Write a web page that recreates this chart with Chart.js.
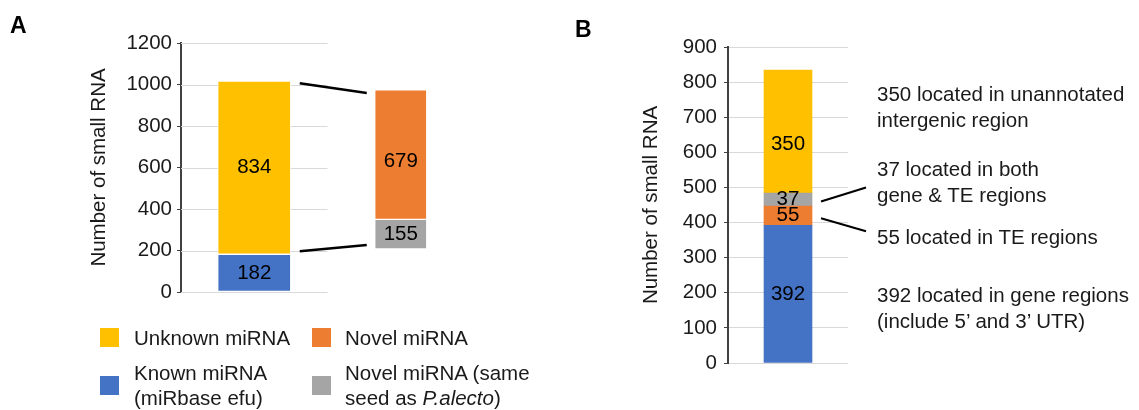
<!DOCTYPE html>
<html>
<head>
<meta charset="utf-8">
<script src="https://cdn.jsdelivr.net/npm/chart.js@4/dist/chart.umd.min.js"></script>
<style>
  body { margin: 0; background: #fff; }
  #wrap { position: relative; width: 1139px; height: 410px; overflow: hidden; font-family: "Liberation Sans", Arial, sans-serif; color: #1a1a1a; }
  canvas { position: absolute; top: 0; }
  .letter { position: absolute; font-weight: bold; font-size: 23px; line-height: 23px; color: #000; }
  .sw { position: absolute; width: 19px; height: 19px; }
  .lg { position: absolute; font-size: 20.5px; line-height: 25px; white-space: nowrap; }
  .note { position: absolute; left: 877px; font-size: 20.5px; line-height: 26px; white-space: nowrap; }
</style>
</head>
<body>
<div id="wrap">
  <canvas id="chartA" width="570" height="410" style="left:0"></canvas>
  <canvas id="chartB" width="569" height="410" style="left:570px"></canvas>

  <div class="letter" style="left:10px; top:14px">A</div>
  <div class="letter" style="left:575px; top:18px">B</div>

  <div class="sw" style="left:100px; top:328px; background:#FFC000"></div>
  <div class="lg" style="left:134px; top:325px">Unknown miRNA</div>
  <div class="sw" style="left:312px; top:328px; background:#ED7D31"></div>
  <div class="lg" style="left:345px; top:325px">Novel miRNA</div>
  <div class="sw" style="left:100px; top:376px; background:#4472C4"></div>
  <div class="lg" style="left:134px; top:360px">Known miRNA<br>(miRbase efu)</div>
  <div class="sw" style="left:312px; top:376px; background:#A5A5A5"></div>
  <div class="lg" style="left:345px; top:360px">Novel miRNA (same<br>seed as <i>P.alecto</i>)</div>

  <div class="note" style="top:81px">350 located in unannotated<br>intergenic region</div>
  <div class="note" style="top:156px">37 located in both<br>gene &amp; TE regions</div>
  <div class="note" style="top:224px">55 located in TE regions</div>
  <div class="note" style="top:282px">392 located in gene regions<br>(include 5’ and 3’ UTR)</div>
</div>

<script>
// panel A data
const barsA = ['All', 'Novel'];
const knownMiRNA = [182, null];
const unknownMiRNA = [834, null];
const novelSameSeed = [null, 155];
const novelMiRNA = [null, 679];

// panel B data
const barsB = ['Novel'];
const geneRegions = [392];
const teRegions = [55];
const bothRegions = [37];
const intergenic = [350];

const FONT = "'Liberation Sans', Arial, sans-serif";
const TEXT = '#1a1a1a';
const AXIS = '#404040';

// numbers in the middle of each segment
const segmentLabels = {
    id: 'segmentLabels',
    afterDatasetsDraw(chart) {
        const ctx = chart.ctx;
        ctx.save();
        ctx.font = '20.5px ' + FONT;
        ctx.fillStyle = '#000';
        ctx.textAlign = 'center';
        ctx.textBaseline = 'middle';
        chart.data.datasets.forEach(function (ds, i) {
            chart.getDatasetMeta(i).data.forEach(function (el, j) {
                if (ds.data[j] == null) return;
                ctx.fillText(ds.data[j], el.x, (el.y + el.base) / 2 + (ds.labelShift || 0));
            });
        });
        ctx.restore();
    }
};

// short gridlines for panel A, only behind the first bar
const shortGrid = {
    id: 'shortGrid',
    beforeDatasetsDraw(chart) {
        const ctx = chart.ctx;
        const y = chart.scales.y;
        const xEnd = chart.scales.x.getPixelForValue(0.5);
        ctx.save();
        ctx.strokeStyle = '#d9d9d9';
        ctx.lineWidth = 1;
        y.ticks.forEach(function (t, i) {
            const py = Math.round(y.getPixelForTick(i)) + 0.5;
            ctx.beginPath();
            ctx.moveTo(chart.chartArea.left, py);
            ctx.lineTo(xEnd, py);
            ctx.stroke();
        });
        ctx.restore();
    }
};

function line(ctx, x1, y1, x2, y2) {
    ctx.beginPath();
    ctx.moveTo(x1, y1);
    ctx.lineTo(x2, y2);
    ctx.stroke();
}

// lines joining the first bar to the breakdown bar
const joinLines = {
    id: 'joinLines',
    afterDatasetsDraw(chart) {
        const ctx = chart.ctx;
        const blue = chart.getDatasetMeta(0).data[0];
        const yellow = chart.getDatasetMeta(1).data[0];
        const gray = chart.getDatasetMeta(2).data[1];
        const orange = chart.getDatasetMeta(3).data[1];
        const x1 = yellow.x + yellow.width / 2 + 9;
        const x2 = orange.x - orange.width / 2 - 8;
        ctx.save();
        ctx.strokeStyle = '#000';
        ctx.lineWidth = 2.5;
        line(ctx, x1, yellow.y + 2, x2, orange.y + 3);
        line(ctx, x1, blue.y - 3, x2, gray.base - 4);
        ctx.restore();
    }
};

// leader lines from the small segments to their notes
const leaderLines = {
    id: 'leaderLines',
    afterDatasetsDraw(chart) {
        const ctx = chart.ctx;
        const orange = chart.getDatasetMeta(1).data[0];
        const gray = chart.getDatasetMeta(2).data[0];
        const right = gray.x + gray.width / 2;
        const gy = (gray.y + gray.base) / 2;
        const oy = (orange.y + orange.base) / 2;
        ctx.save();
        ctx.strokeStyle = '#000';
        ctx.lineWidth = 2;
        line(ctx, right + 9, gy + 2, right + 54, gy - 12);
        line(ctx, right + 9, oy + 2.5, right + 54, oy + 15.5);
        ctx.restore();
    }
};

function yAxis(max, step, pad, width, extra) {
    return Object.assign({
        stacked: true,
        min: 0,
        max: max,
        afterFit: function (scale) { scale.width = width; },
        border: { display: true, color: AXIS, width: 2 },
        ticks: {
            stepSize: step,
            padding: pad,
            color: TEXT,
            font: { family: FONT, size: 20.5 },
            callback: function (v) { return String(v); }
        },
        title: { display: true, text: 'Number of small RNA', color: TEXT, font: { family: FONT, size: 20.5 } }
    }, extra);
}

new Chart(document.getElementById('chartA'), {
    type: 'bar',
    data: {
        labels: barsA,
        datasets: [
            { label: 'Known miRNA', data: knownMiRNA, backgroundColor: '#4472C4', barThickness: 73, yAxisID: 'y', stack: 's' },
            { label: 'Unknown miRNA', data: unknownMiRNA, backgroundColor: '#FFC000', barThickness: 73, yAxisID: 'y', stack: 's' },
            { label: 'Novel miRNA (same seed as P.alecto)', data: novelSameSeed, backgroundColor: '#A5A5A5', barThickness: 52, yAxisID: 'y2', stack: 's' },
            { label: 'Novel miRNA', data: novelMiRNA, backgroundColor: '#ED7D31', barThickness: 52, yAxisID: 'y2', stack: 's', labelShift: 7 }
        ]
    },
    options: {
        responsive: false,
        animation: false,
        layout: { padding: { left: 83, right: 96, top: 43, bottom: 118 } },
        datasets: { bar: { borderColor: 'rgba(255,255,255,0.85)', borderWidth: 1, borderSkipped: false } },
        scales: {
            x: { stacked: true, display: false },
            y: yAxis(1200, 200, 5, 98, {
                grid: { drawOnChartArea: false, drawTicks: true, tickLength: 4, tickColor: AXIS }
            }),
            // the breakdown bar is drawn on its own hidden scale
            y2: { stacked: true, display: false, min: -226, max: 1080 }
        },
        plugins: { legend: { display: false }, tooltip: { enabled: false } }
    },
    plugins: [shortGrid, segmentLabels, joinLines]
});

new Chart(document.getElementById('chartB'), {
    type: 'bar',
    data: {
        labels: barsB,
        datasets: [
            { label: 'gene regions', data: geneRegions, backgroundColor: '#4472C4' },
            { label: 'TE regions', data: teRegions, backgroundColor: '#ED7D31' },
            { label: 'both gene & TE regions', data: bothRegions, backgroundColor: '#A5A5A5' },
            { label: 'unannotated intergenic region', data: intergenic, backgroundColor: '#FFC000', labelShift: 13 }
        ]
    },
    options: {
        responsive: false,
        animation: false,
        layout: { padding: { left: 65, right: 291, top: 47, bottom: 47 } },
        datasets: { bar: { barThickness: 48, borderWidth: 0 } },
        scales: {
            x: { stacked: true, display: false },
            y: yAxis(900, 100, 7, 93, {
                grid: { color: '#d9d9d9', drawTicks: true, tickLength: 4, tickColor: AXIS }
            })
        },
        plugins: { legend: { display: false }, tooltip: { enabled: false } }
    },
    plugins: [segmentLabels, leaderLines]
});
</script>
</body>
</html>
